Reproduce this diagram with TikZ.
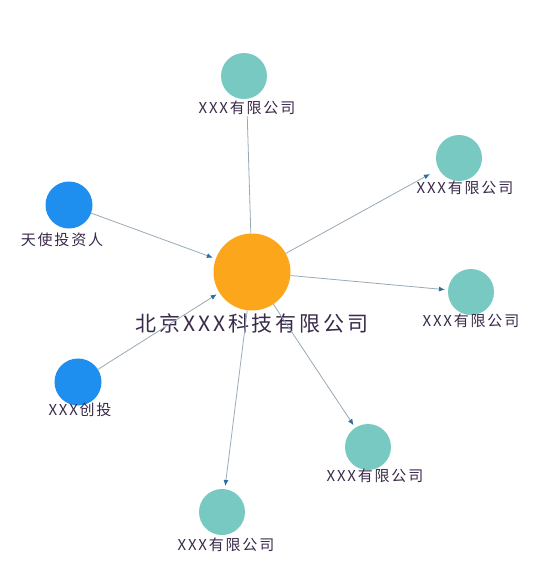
\documentclass[tikz,border=0pt]{standalone}
\usepackage{fontspec}
\setmainfont{Noto Sans CJK SC}
\usepackage{tikz}
\usetikzlibrary{arrows.meta}

\definecolor{hubcol}{HTML}{FBA61B}
\definecolor{firmcol}{HTML}{77C9C1}
\definecolor{investcol}{HTML}{1E8FEE}
\definecolor{linkcol}{HTML}{98AAB8}
\definecolor{tipcol}{HTML}{2C6E9E}
\definecolor{textcol}{HTML}{3A2A4A}

\tikzset{
    hub/.style={circle, fill=hubcol, minimum size=77pt, inner sep=0pt},
    firm/.style={circle, fill=firmcol, minimum size=46pt, inner sep=0pt},
    investor/.style={circle, fill=investcol, minimum size=47pt, inner sep=0pt},
    tag/.style={text=textcol, font=\fontsize{15}{17}\selectfont\addfontfeature{LetterSpace=12}, inner sep=1pt},
    link/.style={linkcol, line width=0.8pt, -{Latex[length=6pt,width=5pt,color=tipcol]}, shorten >=3pt}
}

\begin{document}
\begin{tikzpicture}[x=1pt, y=1pt]
            \useasboundingbox[fill=white] (0,0) rectangle (556,-582);

            \node[hub] (hub) at (252,-272) {};
            \node[text=textcol, font=\fontsize{21}{23}\selectfont\addfontfeature{LetterSpace=14}] (hublabel) at (252,-323) {北京XXX科技有限公司};

            \node[firm] (top) at (244,-76) {};
            \node[tag] (toplabel) at (247,-108) {XXX有限公司};

            \node[firm] (upright) at (459,-158) {};
            \node[tag] (uprightlabel) at (465,-188) {XXX有限公司};

            \node[firm] (right) at (471,-292) {};
            \node[tag] (rightlabel) at (471,-321) {XXX有限公司};

            \node[firm] (lowright) at (368,-447) {};
            \node[tag] (lowrightlabel) at (375,-476) {XXX有限公司};

            \node[firm] (bottom) at (222,-512) {};
            \node[tag] (bottomlabel) at (226,-545) {XXX有限公司};

            \node[investor] (angel) at (69,-205) {};
            \node[tag] (angellabel) at (62,-240) {天使投资人};

            \node[investor] (venture) at (78,-382) {};
            \node[tag] (venturelabel) at (80,-410) {XXX创投};

            % investors into the hub
            \draw[link] (angel) -- (hub);
            \draw[link] (venture) -- (hub);

            % hub out to the firms
            \draw[linkcol, line width=0.8pt] (hub) -- (toplabel);
            \draw[link, shorten >=10pt] (hub) -- (upright);
            \draw[link] (hub) -- (right);
            \draw[link] (hub) -- (lowright);
            \draw[link] (hub) -- (bottom);
        \end{tikzpicture}
\end{document}
